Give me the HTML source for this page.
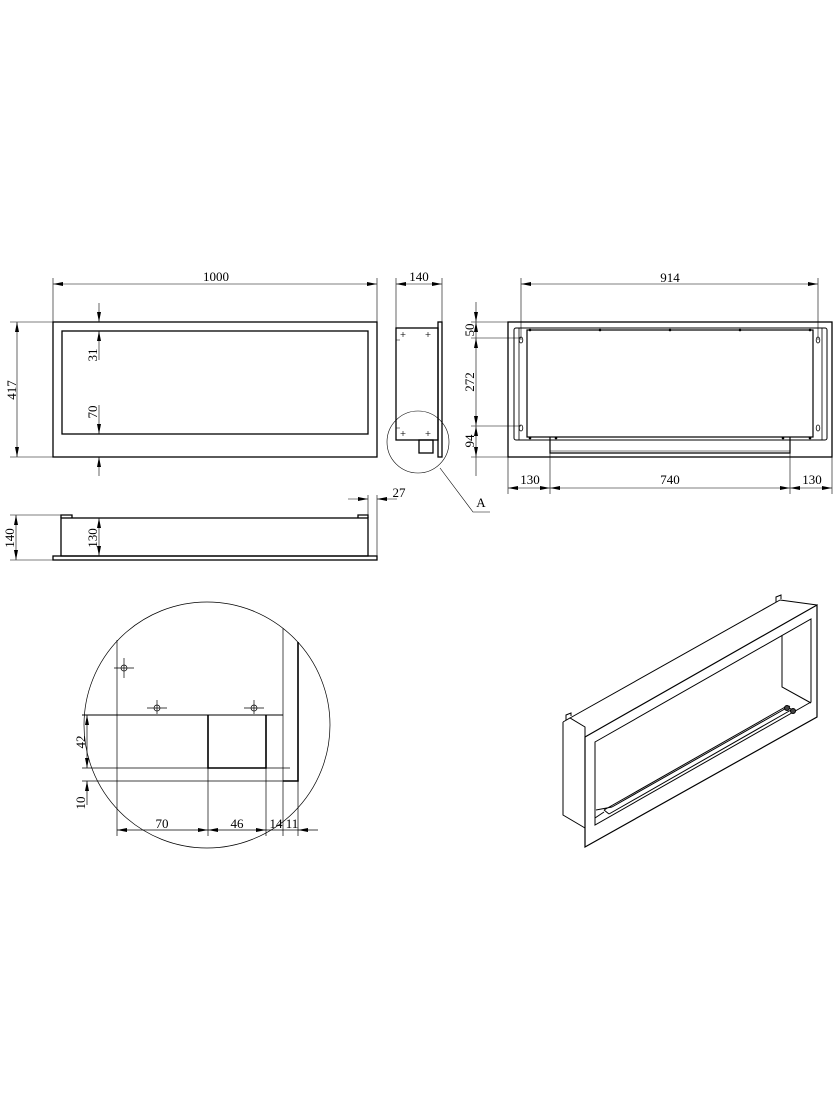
<!DOCTYPE html>
<html><head><meta charset="utf-8"><style>
html,body{margin:0;padding:0;background:#fff}
svg{display:block}
text{font-family:"Liberation Serif",serif;font-size:13px;fill:#000}
</style></head><body>
<svg width="840" height="1120" viewBox="0 0 840 1120" xmlns="http://www.w3.org/2000/svg">
<defs>
<marker id="a" viewBox="0 0 10 4" refX="10" refY="2" markerWidth="10" markerHeight="4" orient="auto-start-reverse" markerUnits="userSpaceOnUse"><path d="M0,0 L10,2 L0,4z" fill="#000"/></marker>
</defs>
<g fill="none" stroke="#000" stroke-width="1">
<!-- Front view -->
<rect x="53" y="322" width="324" height="135" stroke-width="1.3"/>
<rect x="62" y="331" width="306" height="103" stroke-width="1.3"/>
<g stroke-width="0.6">
<line x1="53" y1="278" x2="53" y2="322"/><line x1="377" y1="278" x2="377" y2="322"/>
<line x1="53" y1="284" x2="377" y2="284" marker-start="url(#a)" marker-end="url(#a)"/>
<line x1="10" y1="322" x2="53" y2="322"/><line x1="10" y1="457" x2="53" y2="457"/>
<line x1="17" y1="322" x2="17" y2="457" marker-start="url(#a)" marker-end="url(#a)"/>
<line x1="99" y1="303" x2="99" y2="322" marker-end="url(#a)"/>
<line x1="99" y1="331" x2="99" y2="360" marker-start="url(#a)"/>
<line x1="99" y1="405" x2="99" y2="434" marker-end="url(#a)"/>
<line x1="99" y1="457" x2="99" y2="476" marker-start="url(#a)"/>
</g>
<!-- Side view -->
<rect x="396" y="328" width="42" height="112" stroke-width="1.3"/>
<rect x="438" y="322" width="4" height="135" stroke-width="1.3"/>
<rect x="419" y="440" width="14" height="13" stroke-width="1.3"/>
<g stroke-width="0.6">
<line x1="396" y1="278" x2="396" y2="328"/><line x1="442" y1="278" x2="442" y2="322"/>
<line x1="396" y1="284" x2="442" y2="284" marker-start="url(#a)" marker-end="url(#a)"/>
<circle cx="418" cy="442" r="31"/>
<polyline points="440,468 473,512 490,512"/>
<path d="M403,332v5M400.5,334.5h5M428,332v5M425.5,334.5h5M396,340h4M397,348h0M403,436v-5M400.5,433.5h5M428,436v-5M425.5,433.5h5M396,428h4"/>
</g>
<!-- Top view -->
<rect x="53" y="556" width="324" height="4" stroke-width="1.3"/>
<rect x="61" y="518" width="307" height="38" stroke-width="1.3"/>
<path d="M61,518v-3h11v3M358,518v-3h10v3" stroke-width="1.3"/>
<g stroke-width="0.6">
<line x1="10" y1="515" x2="61" y2="515"/><line x1="10" y1="560" x2="53" y2="560"/>
<line x1="16" y1="515" x2="16" y2="560" marker-start="url(#a)" marker-end="url(#a)"/>
<line x1="99" y1="518" x2="99" y2="556" marker-start="url(#a)" marker-end="url(#a)"/>
<line x1="368" y1="495" x2="368" y2="515"/><line x1="377" y1="495" x2="377" y2="556"/>
<line x1="348" y1="499" x2="368" y2="499" marker-end="url(#a)"/>
<line x1="397" y1="499" x2="377" y2="499" marker-end="url(#a)"/>
</g>
<!-- Back view -->
<rect x="508" y="322" width="324" height="135" stroke-width="1.3"/>
<rect x="514" y="328" width="313" height="112" rx="2" stroke-width="1"/>
<rect x="527" y="330" width="286" height="107" stroke-width="1.2"/>
<path d="M519,328v112M822,328v112" stroke-width="0.8"/>
<path d="M550,437v16h240v-16" stroke-width="1.2"/>
<line x1="550" y1="451" x2="790" y2="451" stroke-width="0.6"/>
<g stroke-width="0.8">
<ellipse cx="521" cy="340" rx="1.8" ry="3"/><ellipse cx="521" cy="428" rx="1.8" ry="3"/>
<ellipse cx="818" cy="340" rx="1.8" ry="3"/><ellipse cx="818" cy="428" rx="1.8" ry="3"/>
</g>
<g fill="#000" stroke="none">
<circle cx="530" cy="330" r="1.3"/><circle cx="600" cy="330" r="1.3"/><circle cx="670" cy="330" r="1.3"/><circle cx="740" cy="330" r="1.3"/><circle cx="810" cy="330" r="1.3"/>
<circle cx="530" cy="438" r="1.3"/><circle cx="556" cy="438" r="1.3"/><circle cx="783" cy="438" r="1.3"/><circle cx="810" cy="438" r="1.3"/>
</g>
<g stroke-width="0.6">
<line x1="521" y1="278" x2="521" y2="340"/><line x1="818" y1="278" x2="818" y2="340"/>
<line x1="521" y1="284" x2="818" y2="284" marker-start="url(#a)" marker-end="url(#a)"/>
<line x1="471" y1="322" x2="508" y2="322"/><line x1="471" y1="338" x2="521" y2="338"/>
<line x1="471" y1="426" x2="521" y2="426"/><line x1="471" y1="457" x2="508" y2="457"/>
<line x1="476" y1="302" x2="476" y2="322" marker-end="url(#a)"/>
<line x1="476" y1="338" x2="476" y2="322" marker-end="url(#a)"/>
<line x1="476" y1="338" x2="476" y2="426" marker-start="url(#a)" marker-end="url(#a)"/>
<line x1="476" y1="426" x2="476" y2="457" marker-start="url(#a)" marker-end="url(#a)"/>
<line x1="476" y1="457" x2="476" y2="476"/>
<line x1="508" y1="457" x2="508" y2="494"/><line x1="550" y1="453" x2="550" y2="494"/>
<line x1="790" y1="453" x2="790" y2="494"/><line x1="832" y1="457" x2="832" y2="494"/>
<line x1="508" y1="488" x2="550" y2="488" marker-start="url(#a)" marker-end="url(#a)"/>
<line x1="550" y1="488" x2="790" y2="488" marker-start="url(#a)" marker-end="url(#a)"/>
<line x1="790" y1="488" x2="832" y2="488" marker-start="url(#a)" marker-end="url(#a)"/>
</g>
<!-- Detail A -->
<circle cx="207" cy="725" r="123" stroke-width="0.7"/>
<g stroke-width="0.7">
<line x1="117" y1="640" x2="117" y2="836"/>
<line x1="82" y1="715" x2="283" y2="715" stroke-width="1.1"/>
<line x1="283" y1="628" x2="283" y2="836"/>
<line x1="82" y1="768" x2="290" y2="768"/>
<line x1="82" y1="781" x2="298" y2="781"/>
<line x1="208" y1="768" x2="208" y2="836"/>
<line x1="266" y1="768" x2="266" y2="836"/>
<line x1="298" y1="781" x2="298" y2="836"/>
</g>
<path d="M298,642v139h-15" stroke-width="1.6"/>
<path d="M208,715v53h58v-53" stroke-width="1.6"/>
<g stroke-width="0.7">
<circle cx="124" cy="668" r="3"/><path d="M114,668h20M124,658v20"/>
<circle cx="157" cy="708" r="3"/><path d="M147,708h20M157,700v14"/>
<circle cx="254" cy="708" r="3"/><path d="M244,708h20M254,700v14"/>
<line x1="117" y1="830" x2="208" y2="830" marker-start="url(#a)" marker-end="url(#a)"/>
<line x1="208" y1="830" x2="266" y2="830" marker-start="url(#a)" marker-end="url(#a)"/>
<line x1="266" y1="830" x2="283" y2="830"/>
<line x1="283" y1="830" x2="298" y2="830"/>
<line x1="318" y1="830" x2="298" y2="830" marker-end="url(#a)"/>
<line x1="87" y1="715" x2="87" y2="768" marker-start="url(#a)" marker-end="url(#a)"/>
<line x1="87" y1="805" x2="87" y2="781" marker-end="url(#a)"/>
</g>
<!-- Iso view -->
<g stroke-width="1">
<polygon points="585,737 817,605 817,717 585,847" stroke-width="1.2"/>
<polygon points="595,742 811,619 811,702 595,825"/>
<polyline points="563,722 563,815 585,828"/>
<polyline points="563,722 570,718 585,727 585,737"/>
<line x1="570" y1="718" x2="780" y2="600"/>
<line x1="780" y1="600" x2="817" y2="605"/>
<path d="M566,720v-5l5,-2v3M776,602v-5l5,-2v4"/>
<path d="M782,635v52l29,16"/>
<path d="M604,810l183,-104M609,814l182,-104M612,807l178,-101M604,810l5,4M596,810l16,-3M787,706l5,4"/>
<line x1="595" y1="818" x2="604" y2="812"/>
<circle cx="787" cy="708" r="2.5" fill="#444"/><circle cx="793" cy="711" r="2.5" fill="#444"/>
</g>
</g>
<!-- Labels -->
<text x="216" y="281" text-anchor="middle">1000</text>
<text x="419" y="281" text-anchor="middle">140</text>
<text x="670" y="282" text-anchor="middle">914</text>
<text transform="translate(16,390) rotate(-90)" text-anchor="middle">417</text>
<text transform="translate(97,355) rotate(-90)" text-anchor="middle">31</text>
<text transform="translate(97,412) rotate(-90)" text-anchor="middle">70</text>
<text transform="translate(14,538) rotate(-90)" text-anchor="middle">140</text>
<text transform="translate(97,538) rotate(-90)" text-anchor="middle">130</text>
<text x="399" y="497" text-anchor="middle">27</text>
<text x="481" y="507" text-anchor="middle">A</text>
<text transform="translate(474,330) rotate(-90)" text-anchor="middle">50</text>
<text transform="translate(474,382) rotate(-90)" text-anchor="middle">272</text>
<text transform="translate(474,441) rotate(-90)" text-anchor="middle">94</text>
<text x="530" y="484" text-anchor="middle">130</text>
<text x="670" y="484" text-anchor="middle">740</text>
<text x="812" y="484" text-anchor="middle">130</text>
<text transform="translate(85,742) rotate(-90)" text-anchor="middle">42</text>
<text transform="translate(85,803) rotate(-90)" text-anchor="middle">10</text>
<text x="162" y="828" text-anchor="middle">70</text>
<text x="237" y="828" text-anchor="middle">46</text>
<text x="276" y="828" text-anchor="middle">14</text>
<text x="292" y="828" text-anchor="middle">11</text>
</svg>
</body></html>
